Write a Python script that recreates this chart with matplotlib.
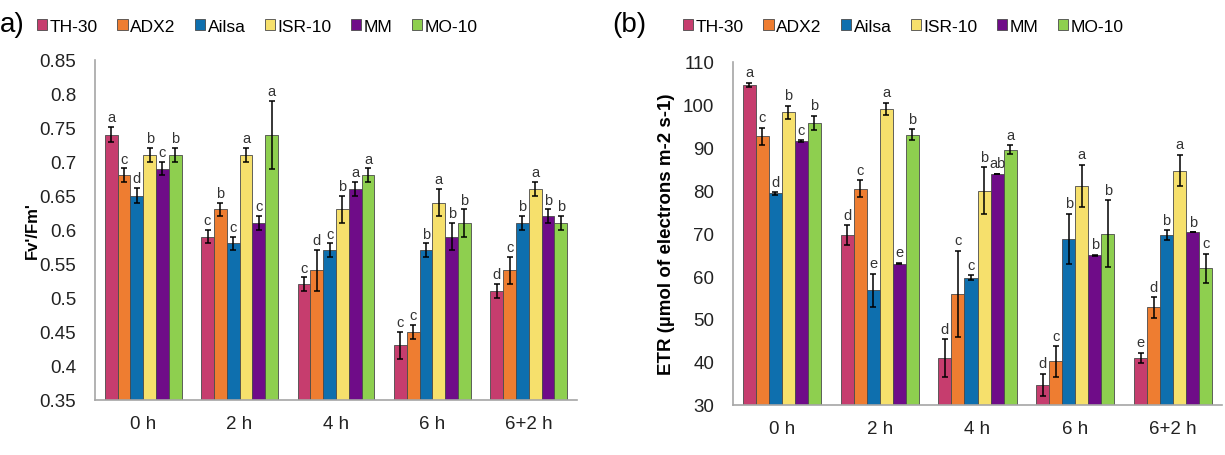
import matplotlib
matplotlib.use("Agg")
import matplotlib.pyplot as plt
import numpy as np

plt.rcParams['font.family'] = ['Liberation Sans', 'DejaVu Sans']

categories = ["0 h", "2 h", "4 h", "6 h", "6+2 h"]
genotypes = ["TH-30", "ADX2", "Ailsa", "ISR-10", "MM", "MO-10"]
colors = ["#C63D6E", "#EE7D31", "#0E6FAE", "#F6E06C", "#6F0C88", "#8ECF4F"]

# Panel (a): Fv'/Fm'  (one list per genotype, one value per time point)
fv_TH30 = [0.74, 0.59, 0.52, 0.43, 0.51]
fv_ADX2 = [0.68, 0.63, 0.54, 0.45, 0.54]
fv_Ailsa = [0.65, 0.58, 0.57, 0.57, 0.61]
fv_ISR10 = [0.71, 0.71, 0.63, 0.64, 0.66]
fv_MM = [0.69, 0.61, 0.66, 0.59, 0.62]
fv_MO10 = [0.71, 0.74, 0.68, 0.61, 0.61]
fv_err_TH30 = [0.011, 0.01, 0.01, 0.02, 0.01]
fv_err_ADX2 = [0.01, 0.01, 0.03, 0.01, 0.02]
fv_err_Ailsa = [0.011, 0.01, 0.01, 0.01, 0.01]
fv_err_ISR10 = [0.01, 0.01, 0.02, 0.02, 0.01]
fv_err_MM = [0.01, 0.01, 0.01, 0.02, 0.01]
fv_err_MO10 = [0.01, 0.05, 0.01, 0.02, 0.01]
fv_let_TH30 = ["a", "c", "c", "c", "d"]
fv_let_ADX2 = ["c", "b", "d", "c", "c"]
fv_let_Ailsa = ["d", "c", "c", "b", "b"]
fv_let_ISR10 = ["b", "a", "b", "a", "a"]
fv_let_MM = ["c", "c", "a", "b", "b"]
fv_let_MO10 = ["b", "a", "a", "b", "b"]

# Panel (b): ETR
etr_TH30 = [104.6, 69.5, 40.9, 34.6, 40.9]
etr_ADX2 = [92.6, 80.4, 55.9, 40.1, 52.7]
etr_Ailsa = [79.3, 56.7, 59.6, 68.7, 69.5]
etr_ISR10 = [98.2, 99.0, 79.9, 81.1, 84.6]
etr_MM = [91.5, 62.9, 83.9, 64.8, 70.2]
etr_MO10 = [95.7, 93.0, 89.5, 69.9, 61.8]
etr_err_TH30 = [0.5, 2.3, 4.4, 2.6, 1.2]
etr_err_ADX2 = [2.0, 2.0, 10.0, 3.6, 2.4]
etr_err_Ailsa = [0.3, 3.9, 0.6, 5.8, 1.2]
etr_err_ISR10 = [1.5, 1.4, 5.5, 4.9, 3.7]
etr_err_MM = [0.2, 0.2, 0.0, 0.2, 0.0]
etr_err_MO10 = [1.7, 1.2, 1.0, 7.8, 3.4]
etr_let_TH30 = ["a", "d", "d", "d", "e"]
etr_let_ADX2 = ["c", "c", "c", "c", "d"]
etr_let_Ailsa = ["d", "e", "c", "b", "b"]
etr_let_ISR10 = ["b", "a", "b", "a", "a"]
etr_let_MM = ["c", "e", "ab", "b", "b"]
etr_let_MO10 = ["b", "b", "a", "b", "c"]

fv_vals = [fv_TH30, fv_ADX2, fv_Ailsa, fv_ISR10, fv_MM, fv_MO10]
fv_errs = [fv_err_TH30, fv_err_ADX2, fv_err_Ailsa, fv_err_ISR10, fv_err_MM, fv_err_MO10]
fv_lets = [fv_let_TH30, fv_let_ADX2, fv_let_Ailsa, fv_let_ISR10, fv_let_MM, fv_let_MO10]
etr_vals = [etr_TH30, etr_ADX2, etr_Ailsa, etr_ISR10, etr_MM, etr_MO10]
etr_errs = [etr_err_TH30, etr_err_ADX2, etr_err_Ailsa, etr_err_ISR10, etr_err_MM, etr_err_MO10]
etr_lets = [etr_let_TH30, etr_let_ADX2, etr_let_Ailsa, etr_let_ISR10, etr_let_MM, etr_let_MO10]

fig = plt.figure(figsize=(12.25, 4.56), dpi=100)
axA = fig.add_axes([95/1225, 1-400.7/456, (577-95)/1225, 340/456])
axB = fig.add_axes([733/1225, 1-405.7/456, (1222-733)/1225, 343/456])

bw = 0.133
x = np.arange(len(categories))


def draw(ax, vals, errs, lets, ylim, ticks, ticklabels, ylabel, off, ylsize, ylpad):
    handles = []
    for i, (v, e, l) in enumerate(zip(vals, errs, lets)):
        pos = x + (i - 2.5) * bw
        h = ax.bar(pos, v, width=bw, color=colors[i], edgecolor="#4a4a4a",
                   linewidth=0.6, label=genotypes[i], zorder=2)
        handles.append(h)
        ax.errorbar(pos, v, yerr=e, fmt="none", ecolor="black", elinewidth=1.1,
                    capsize=2.5, capthick=1.1, zorder=3)
        for p, vv, ee, ll in zip(pos, v, e, l):
            ax.text(p, vv + ee + off, ll, ha="center", va="bottom",
                    fontsize=10.5, color="#333333")
    ax.set_xlim(-0.5, len(categories) - 0.5)
    ax.set_ylim(*ylim)
    ax.set_yticks(ticks)
    ax.set_yticklabels(ticklabels)
    ax.set_xticks(x)
    ax.set_xticklabels(categories)
    ax.tick_params(axis="both", length=0, labelsize=13.5, colors="#222222")
    ax.tick_params(axis="x", pad=11)
    ax.tick_params(axis="y", pad=13.5)
    for s in ["top", "right"]:
        ax.spines[s].set_visible(False)
    for s in ["left", "bottom"]:
        ax.spines[s].set_color("#a6a6a6")
        ax.spines[s].set_linewidth(1.2)
    ax.set_ylabel(ylabel, fontsize=ylsize, fontweight="bold", labelpad=ylpad)
    return handles


ticksA = [0.35, 0.4, 0.45, 0.5, 0.55, 0.6, 0.65, 0.7, 0.75, 0.8, 0.85]
hA = draw(axA, fv_vals, fv_errs, fv_lets, (0.35, 0.85), ticksA,
          ["%g" % t for t in ticksA], "Fv'/Fm'", 0.004, 12, 0)
ticksB = list(range(30, 111, 10))
hB = draw(axB, etr_vals, etr_errs, etr_lets, (30, 110), ticksB,
          [str(t) for t in ticksB], "ETR (µmol of electrons m-2 s-1)", 0.8, 13.5, 6)

for handles, xl in ((hA, 37/1225), (hB, 683/1225)):
    fig.legend(handles=handles, labels=genotypes, loc="center left",
               bbox_to_anchor=(xl, 1-27/456), ncol=6, frameon=False,
               fontsize=12.5, handlelength=0.6, handleheight=0.6,
               handletextpad=0.15, columnspacing=1.1, borderpad=0,
               borderaxespad=0)

fig.text(0.0, 1-25/456, "a)", fontsize=20, va="center", ha="left")
fig.text(612/1225, 1-25/456, "(b)", fontsize=20, va="center", ha="left")

fig.savefig("out.png", dpi=100)
